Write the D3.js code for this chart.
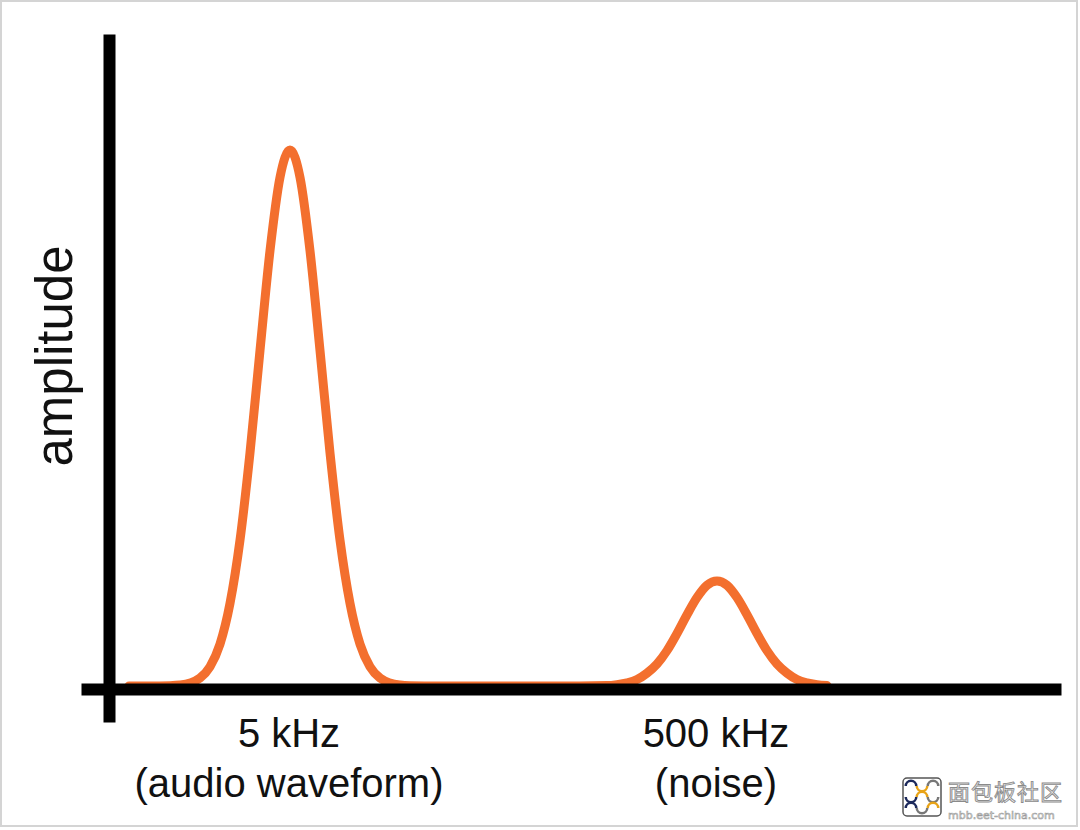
<!DOCTYPE html>
<html>
<head>
<meta charset="utf-8">
<script src="https://cdn.jsdelivr.net/npm/d3@7"></script>
<style>
  html, body { margin: 0; padding: 0; background: #fff; }
  svg { display: block; }
</style>
</head>
<body>
<svg id="chart" width="1080" height="830"></svg>
<script>
// ---- data (positions along the frequency axis, arbitrary units; amplitude normalised to the tallest peak) ----
const positions = [20, 40, 61, 71, 81, 91, 101, 111, 121, 131, 141, 151, 161, 171, 181, 191, 201, 211, 221, 231, 241, 251, 261, 271, 281, 291, 301, 330, 400, 470, 498, 508, 518, 528, 538, 548, 558, 568, 578, 588, 598, 608, 618, 628, 638, 648, 658, 668, 678, 688, 698, 708, 718];
const amplitudes = [0, 0, 0.0006, 0.0018, 0.0055, 0.0148, 0.036, 0.078, 0.154, 0.272, 0.435, 0.626, 0.812, 0.949, 1.0, 0.949, 0.812, 0.626, 0.435, 0.272, 0.154, 0.078, 0.036, 0.0148, 0.0055, 0.0018, 0.0006, 0, 0, 0, 0.0008, 0.0026, 0.0059, 0.012, 0.024, 0.041, 0.066, 0.098, 0.133, 0.165, 0.188, 0.196, 0.188, 0.165, 0.133, 0.098, 0.066, 0.041, 0.024, 0.012, 0.0059, 0.0026, 0.0008];
const peakLabels = [
  { pos: 180, lines: ["5 kHz", "(audio waveform)"] },
  { pos: 607, lines: ["500 kHz", "(noise)"] }
];
const yAxisTitle = "amplitude";
const watermarkTitle = "面包板社区";
const watermarkUrl = "mbb.eet-china.com";

// ---- layout ----
const svg = d3.select("#chart");

const x = d3.scaleLinear().domain([0, 952]).range([109, 1061]);
const y = d3.scaleLinear().domain([0, 1]).range([686, 150]);

// frame
svg.append("rect")
  .attr("x", 1).attr("y", 1).attr("width", 1076).attr("height", 825)
  .attr("fill", "#fff").attr("stroke", "#d4d4d4").attr("stroke-width", 2);

const data = positions.map((p, i) => ({ p, a: amplitudes[i] }));

// curve
svg.append("path")
  .datum(data)
  .attr("fill", "none")
  .attr("stroke", "#F36F2E")
  .attr("stroke-width", 9)
  .attr("stroke-linejoin", "round")
  .attr("stroke-linecap", "round")
  .attr("d", d3.line().x(d => x(d.p)).y(d => y(d.a)).curve(d3.curveMonotoneX));

// axes (thick black lines, drawn with d3 axis generators, no ticks)
const xAxisScale = d3.scaleLinear().domain([0, 1]).range([81, 1061]);
const yAxisScale = d3.scaleLinear().domain([0, 1]).range([722, 34]);

const gx = svg.append("g").attr("transform", "translate(0,689)")
  .call(d3.axisBottom(xAxisScale).tickValues([]).tickSizeOuter(0));
gx.select(".domain").attr("stroke", "#000").attr("stroke-width", 12);

const gy = svg.append("g").attr("transform", "translate(109,0)")
  .call(d3.axisLeft(yAxisScale).tickValues([]).tickSizeOuter(0));
gy.select(".domain").attr("stroke", "#000").attr("stroke-width", 12);

// peak labels
const font = "'Liberation Sans', Arial, sans-serif";
peakLabels.forEach(l => {
  const t = svg.append("text")
    .attr("text-anchor", "middle")
    .attr("font-family", font)
    .attr("font-size", 40)
    .attr("fill", "#111");
  l.lines.forEach((s, i) => {
    t.append("tspan").attr("x", x(l.pos)).attr("y", 747 + i * 50).text(s);
  });
});

// y axis title
svg.append("text")
  .attr("transform", "translate(72,356) rotate(-90)")
  .attr("text-anchor", "middle")
  .attr("font-family", font)
  .attr("font-size", 51)
  .attr("fill", "#111")
  .text(yAxisTitle);

// watermark
const wm = svg.append("g");
wm.append("rect").attr("x", 903).attr("y", 778).attr("width", 38).attr("height", 38)
  .attr("rx", 4).attr("fill", "#fff").attr("stroke", "#555").attr("stroke-width", 1.5);
const arcCols = ["#1d2a5c", "#e8a317", "#777", "#1d2a5c", "#e8a317", "#777", "#1d2a5c", "#777", "#e8a317"];
const arc = d3.arc().innerRadius(4).outerRadius(6.5).startAngle(-Math.PI / 2).endAngle(Math.PI / 2);
for (let r = 0; r < 3; r++) for (let c = 0; c < 3; c++) {
  wm.append("path").attr("d", arc())
    .attr("fill", arcCols[r * 3 + c])
    .attr("transform", `translate(${911 + c * 11},${786 + r * 11}) rotate(${(r + c) % 2 ? 180 : 0})`);
}
wm.append("text").attr("x", 948).attr("y", 800)
  .attr("font-family", "'Noto Sans CJK SC', sans-serif").attr("font-size", 22)
  .attr("letter-spacing", 1)
  .attr("fill", "#f4f4f4").attr("stroke", "#8a8a8a").attr("stroke-width", 0.9)
  .text(watermarkTitle);
wm.append("text").attr("x", 948).attr("y", 819)
  .attr("font-family", "'DejaVu Sans', sans-serif").attr("font-size", 11)
  .attr("fill", "#f4f4f4").attr("stroke", "#9a9a9a").attr("stroke-width", 0.6)
  .text(watermarkUrl);
</script>
</body>
</html>
